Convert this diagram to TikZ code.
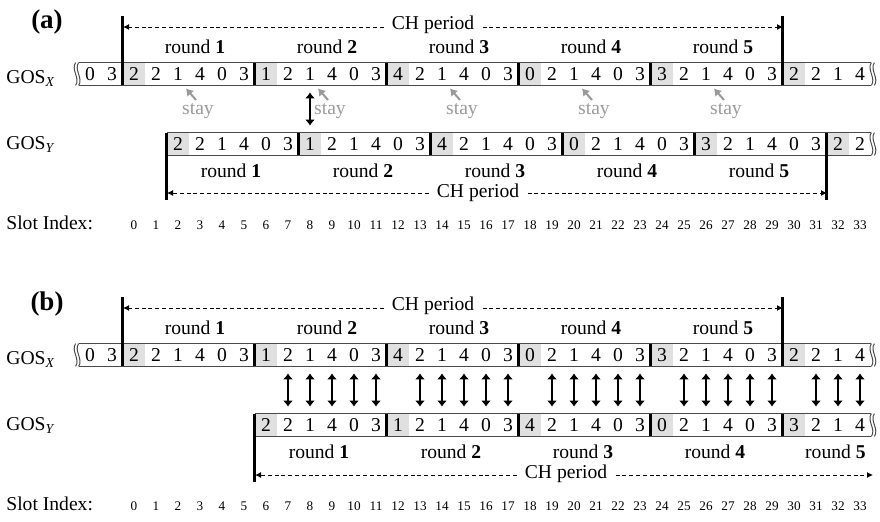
\documentclass[tikz,border=0pt]{standalone}
\usepackage{fontspec}
\setmainfont{Liberation Serif}
\usetikzlibrary{arrows.meta,positioning}
\definecolor{cellfill}{HTML}{E0E0E0}
\definecolor{staygray}{HTML}{9A9A9A}
\definecolor{rowline}{HTML}{4A4A4A}

% channel of every slot, one entry per slot
\newcommand{\seqX}{0,3,2,2,1,4,0,3,1,2,1,4,0,3,4,2,1,4,0,3,0,2,1,4,0,3,3,2,1,4,0,3,2,2,1,4}
\newcommand{\seqYa}{2,2,1,4,0,3,1,2,1,4,0,3,4,2,1,4,0,3,0,2,1,4,0,3,3,2,1,4,0,3,2,2}
\newcommand{\seqYb}{2,2,1,4,0,3,1,2,1,4,0,3,4,2,1,4,0,3,0,2,1,4,0,3,3,2,1,4}

% one row of slots: name, y, first slot, first round slot, channels
\newcommand{\gosrow}[5]{%
  \foreach \val [count=\cnt from 0] in #5 {
    \pgfmathtruncatemacro\slot{#3+\cnt}
    \pgfmathtruncatemacro\mk{(\slot>=#4)*(mod(\slot-#4+60,6)==0)}
    \ifnum\mk=1 \def\sty{lead}\else\def\sty{cell}\fi
    \node[\sty] (#1-\slot) at ({134+22*\slot},#2) {\val};
  }%
}

\begin{document}
\begin{tikzpicture}[
  x=0.5pt, y=-0.5pt,
  every node/.style={font=\fontsize{9.8}{11}\selectfont, inner sep=0pt},
  cell/.style={minimum width=11pt, minimum height=11pt},
  lead/.style={cell, fill=cellfill},
  rowbox/.style={draw=rowline, line width=0.75pt},
  rbar/.style={line width=1.2pt},
  chbar/.style={line width=1.3pt},
  chlbl/.style={anchor=base, inner xsep=4pt},
  period/.style={dash pattern=on 2pt off 1.4pt, line width=0.5pt, -{Latex[length=3pt,width=3pt]}},
  meet/.style={{Latex[length=3pt,width=5pt]}-{Latex[length=3pt,width=5pt]}, line width=1.1pt, shorten <=3.5pt, shorten >=3.5pt},
  stay/.style={anchor=base, text=staygray},
  stayarr/.style={draw=staygray, line width=1pt, -{Latex[length=3.5pt,width=4.6pt]}},
  rnd/.style={anchor=base},
  idx/.style={anchor=base, font=\fontsize{6.6}{8}\selectfont},
  tag/.style={anchor=base, font=\fontsize{13.5}{15}\selectfont\bfseries}
]
  \useasboundingbox (0,0) rectangle (880,521);

  \node[tag] (pa) at (47,28) {(a)};
  \node[tag] (pb) at (47,310) {(b)};

  % slot rows
  \gosrow{xa}{74}{-2}{0}{\seqX}
  \gosrow{ya}{144}{2}{2}{\seqYa}
  \gosrow{xb}{355}{-2}{0}{\seqX}
  \gosrow{yb}{425}{6}{6}{\seqYb}

  \foreach \nm/\first in {xa/-2, ya/2, xb/-2, yb/6}
    \draw[rowbox] (\nm-\first.north west) -- (\nm-33.north east)
                  (\nm-\first.south west) -- (\nm-33.south east);

  % torn ends
  \foreach \nm in {xa, ya, xb, yb}
    \foreach \dx in {0,3}
      \draw[rowbox, line width=0.5pt] ([xshift=\dx*0.5pt]\nm-33.north east)
        .. controls +(-5,7) and +(5,-7) .. ([xshift=\dx*0.5pt]\nm-33.south east);
  \foreach \nm in {xa, xb}
    \foreach \dx in {0,3}
      \draw[rowbox, line width=0.5pt] ([xshift=-\dx*0.5pt]\nm--2.north west)
        .. controls +(-5,7) and +(5,-7) .. ([xshift=-\dx*0.5pt]\nm--2.south west);

  % round borders
  \foreach \s in {6,12,18,24} {
    \draw[rbar] (xa-\s.north west) -- (xa-\s.south west);
    \draw[rbar] (xb-\s.north west) -- (xb-\s.south west);
  }
  \foreach \s in {8,14,20,26} \draw[rbar] (ya-\s.north west) -- (ya-\s.south west);
  \foreach \s in {12,18,24,30} \draw[rbar] (yb-\s.north west) -- (yb-\s.south west);

  % CH periods
  \draw[chbar] (xa-0.south west) -- ++(0,-69) (xa-30.south west) -- ++(0,-69);
  \node[chlbl] (cha) at (433,29) {CH period};
  \coordinate (cha-l) at (123,27);
  \coordinate (cha-r) at (783,27);
  \draw[period] (cha.west |- cha-l) -- (cha-l);
  \draw[period] (cha.east |- cha-r) -- (cha-r);

  \draw[chbar] (ya-2.north west) -- ++(0,67) (ya-32.north west) -- ++(0,67);
  \node[chlbl] (chya) at (478,197) {CH period};
  \coordinate (chya-l) at (167,193);
  \coordinate (chya-r) at (827,193);
  \draw[period] (chya.west |- chya-l) -- (chya-l);
  \draw[period] (chya.east |- chya-r) -- (chya-r);

  \draw[chbar] (xb-0.south west) -- ++(0,-69) (xb-30.south west) -- ++(0,-69);
  \node[chlbl] (chb) at (433,310) {CH period};
  \coordinate (chb-l) at (123,308);
  \coordinate (chb-r) at (783,308);
  \draw[period] (chb.west |- chb-l) -- (chb-l);
  \draw[period] (chb.east |- chb-r) -- (chb-r);

  \draw[chbar] (yb-6.north west) -- ++(0,68);
  \node[chlbl] (chyb) at (566,478) {CH period};
  \coordinate (chyb-l) at (255,475);
  \coordinate (chyb-r) at (873,475);
  \draw[period] (chyb.west |- chyb-l) -- (chyb-l);
  \draw[period] (chyb.east |- chyb-r) -- (chyb-r);

  % round labels
  \foreach \r in {1,...,5} {
    \node[rnd] (rxa-\r) at ({195+132*(\r-1)},53) {round \textbf{\r}};
    \node[rnd] (rya-\r) at ({231+132*(\r-1)},177) {round \textbf{\r}};
    \node[rnd] (rxb-\r) at ({195+132*(\r-1)},334) {round \textbf{\r}};
  }
  \foreach \r in {1,...,4}
    \node[rnd] (ryb-\r) at ({319+132*(\r-1)},458) {round \textbf{\r}};
  \node[rnd, anchor=base east] (ryb-5) at (866,458) {round \textbf{5}};

  % stay hints
  \foreach \r in {1,...,5} {
    \pgfmathtruncatemacro\tgt{6*(\r-1)+2}
    \node[stay] (st-\r) at ({198+132*(\r-1)},114) {stay};
    \draw[stayarr] ([shift={(-2,-14)}]st-\r.base) -- ([shift={(8,3)}]xa-\tgt.south);
  }

  % rendezvous
  \draw[meet] (xa-8.south) -- (ya-8.north);
  \foreach \s in {7,...,33} {
    \pgfmathtruncatemacro\mk{mod(\s,6)}
    \ifnum\mk=0 \else \draw[meet] (xb-\s.south) -- (yb-\s.north); \fi
  }

  % labels and slot index
  \node[anchor=base west] (gxa) at (6,83) {GOS\textsubscript{\itshape X}};
  \node[anchor=base west] (gya) at (6,149) {GOS\textsubscript{\itshape Y}};
  \node[anchor=base west] (gxb) at (6,364) {GOS\textsubscript{\itshape X}};
  \node[anchor=base west] (gyb) at (6,430) {GOS\textsubscript{\itshape Y}};

  \node[anchor=base west] (sia) at (6,229) {Slot Index:};
  \node[anchor=base west] (sib) at (6,510) {Slot Index:};
  \foreach \i in {0,...,33} {
    \node[idx] (ia-\i) at ({134+22*\i},229) {\i};
    \node[idx] (ib-\i) at ({134+22*\i},510) {\i};
  }
\end{tikzpicture}
\end{document}
